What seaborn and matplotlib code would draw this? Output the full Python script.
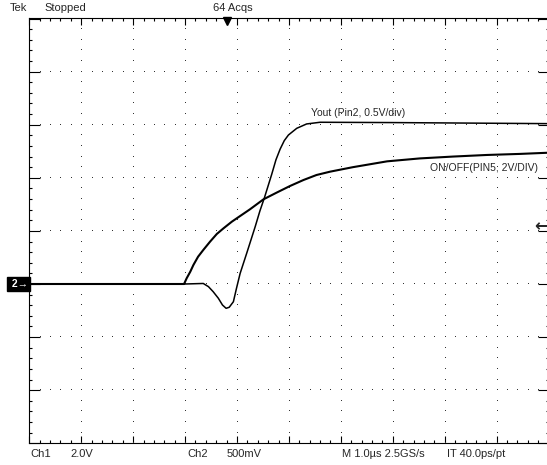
import numpy as np
import matplotlib
matplotlib.use("Agg")
import matplotlib.pyplot as plt
import seaborn as sns

# trace data (time in us, 1 us/div)
yout_t = [0.0, 3.0, 3.35, 3.45, 3.54, 3.64, 3.72, 3.79, 3.85, 3.93, 3.99, 4.06,
          4.19, 4.35, 4.44, 4.53, 4.67, 4.75, 4.83, 4.91, 4.99, 5.15, 5.34, 5.60,
          7.0, 8.5, 10.0]
yout_v = [0.0, 0.0, 0.005, -0.025, -0.072, -0.134, -0.198, -0.229, -0.219, -0.167,
          -0.04, 0.10, 0.295, 0.54, 0.687, 0.816, 1.036, 1.17, 1.27, 1.35, 1.403,
          1.466, 1.507, 1.523, 1.52, 1.515, 1.51]
onoff_t = [0.0, 2.98, 3.03, 3.10, 3.16, 3.25, 3.35, 3.48, 3.61, 3.74, 3.90, 4.06,
           4.25, 4.51, 4.76, 5.02, 5.28, 5.53, 5.79, 6.23, 6.89, 7.52, 8.16, 8.81,
           9.45, 10.0]
onoff_v = [0.0, 0.0, 0.215, 0.463, 0.716, 1.028, 1.281, 1.593, 1.883, 2.098, 2.347,
           2.561, 2.814, 3.19, 3.439, 3.691, 3.917, 4.105, 4.23, 4.40, 4.62, 4.73,
           4.80, 4.86, 4.90, 4.945]

yout_scale = 0.5   # V/div on Ch2
onoff_scale = 2.0  # V/div on Ch1

top_labels = ["Tek", "Stopped", "64 Acqs"]
bottom_labels = ["Ch1", "2.0V", "Ch2", "500mV", "M 1.0\u00b5s 2.5GS/s", "IT 40.0ps/pt"]

sns.set_style("white")
plt.rcParams["font.family"] = ["Liberation Sans", "DejaVu Sans"]

W, H = 547, 465
fig = plt.figure(figsize=(W / 100, H / 100), dpi=100)
fig.patch.set_facecolor("white")
ax = fig.add_axes([29.3 / W, (H - 443.3) / H, 519.3 / W, 424.8 / H])
ax.set_xlim(0, 10)
ax.set_ylim(-3, 5)

# dotted graticule
minor = np.arange(0, 10.001, 0.2)
minor_y = np.arange(-3, 5.001, 0.2)
for gx in range(1, 10):
    ax.plot(np.full_like(minor_y, gx), minor_y, ls="none", marker=",", color="#333333")
for gy in range(-2, 5):
    ax.plot(minor, np.full_like(minor, gy), ls="none", marker=",", color="#333333")

# traces
sns.lineplot(x=onoff_t, y=np.array(onoff_v) / onoff_scale, ax=ax, color="black",
             lw=1.5, estimator=None)
sns.lineplot(x=yout_t, y=np.array(yout_v) / yout_scale, ax=ax, color="black",
             lw=1.1, estimator=None)

ax.text(5.42, 3.22, "Yout (Pin2, 0.5V/div)", fontsize=7.5, ha="left", va="center")
ax.text(9.80, 2.18, "ON/OFF(PIN5, 2V/DIV)", fontsize=7.5, ha="right", va="center")

# frame ticks
ax.set_xticks(range(11))
ax.set_xticks(minor, minor=True)
ax.set_yticks(range(-3, 6))
ax.set_yticks(minor_y, minor=True)
ax.tick_params(axis="x", which="major", direction="in", length=5, width=0.8,
               top=True, bottom=True, labelbottom=False, color="black")
ax.tick_params(axis="x", which="minor", direction="in", length=2.2, width=0.8,
               top=True, bottom=True, color="black")
ax.tick_params(axis="y", which="major", direction="in", length=8, width=0.8,
               left=True, right=True, labelleft=False, color="black")
ax.tick_params(axis="y", which="minor", direction="in", length=2.2, width=0.8,
               left=True, right=True, color="black")
for s in ax.spines.values():
    s.set_color("black")
    s.set_linewidth(0.8)

# trigger position marker on top edge
ax.plot([3.8], [4.955], marker="v", color="black", ms=6, clip_on=False)

# channel 2 ground marker
ax.annotate(" 2\u2192", xy=(0, 0), xycoords=("axes fraction", "data"),
            xytext=(-1, 0), textcoords="offset points", ha="right", va="center",
            color="white", fontsize=7.5, fontweight="bold",
            bbox=dict(boxstyle="square,pad=0.22", fc="black", ec="black"),
            annotation_clip=False)

# trigger level arrow on right edge
fig.text(541 / W, 1 - 226 / H, "\u2190", fontsize=12, fontweight="bold",
         ha="center", va="center", family="DejaVu Sans")

top_x = [10, 44, 213]
for lab, x in zip(top_labels, top_x):
    fig.text(x / W, 1 - 8 / H, lab, fontsize=8, ha="left", va="center")
bottom_x = [30, 70, 187, 227, 342, 447]
for lab, x in zip(bottom_labels, bottom_x):
    fig.text(x / W, 1 - 454 / H, lab, fontsize=8, ha="left", va="center")

fig.savefig("out.png", dpi=100, facecolor="white")
